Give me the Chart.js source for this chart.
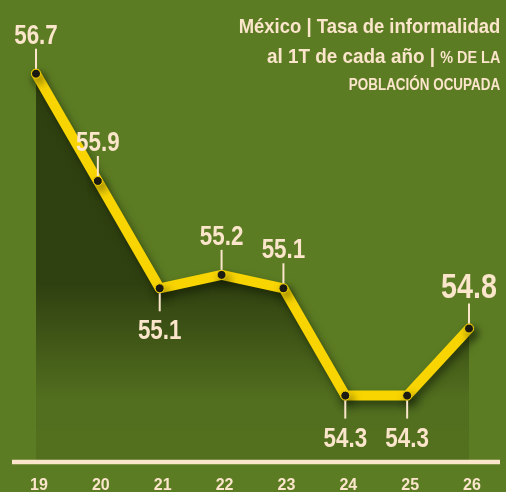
<!DOCTYPE html>
<html>
<head>
<meta charset="utf-8">
<script src="https://cdn.jsdelivr.net/npm/chart.js@4"></script>
<style>
  html, body { margin:0; padding:0; background:#5c7c23; }
  #wrap { position:relative; width:506px; height:492px; overflow:hidden; background:#5c7c23; }
  canvas { position:absolute; left:0; top:0; }
  .t { position:absolute; right:6px; color:#fbe5cb; font-family:'Liberation Sans',Arial,sans-serif; font-weight:bold; white-space:nowrap; line-height:1; transform-origin:right center; }
  .sm { font-size:16px; }
</style>
</head>
<body>
<div id="wrap">
  <canvas id="c" width="506" height="492"></canvas>
  <div class="t" style="top:15px;font-size:21px;transform:scaleX(0.88);">México | Tasa de informalidad</div>
  <div class="t" style="top:45px;font-size:21px;transform:scaleX(0.9);">al 1T de cada año | <span class="sm">% DE LA</span></div>
  <div class="t sm" style="top:77px;transform:scaleX(0.84);">POBLACIÓN OCUPADA</div>
</div>
<script>
const categories = ['19','20','21','22','23','24','25','26'];
const values = [56.7, 55.9, 55.1, 55.2, 55.1, 54.3, 54.3, 54.8];
const labelSide = ['above','above','below','above','above','below','below','above'];
const bigLabel = [false,false,false,false,false,false,false,true];

const FONT = "'Liberation Sans',Arial,sans-serif";
const CREAM = '#fbe5cb';
const YELLOW = '#f8d500';

const shadowPlugin = {
  id: 'lineShadow',
  beforeDatasetDraw(chart) {
    const ctx = chart.ctx;
    ctx.shadowColor = 'rgba(10,15,0,0.5)';
    ctx.shadowBlur = 9;
    ctx.shadowOffsetX = 3;
    ctx.shadowOffsetY = 5;
  },
  afterDatasetDraw(chart) {
    const ctx = chart.ctx;
    ctx.shadowColor = 'rgba(0,0,0,0)';
    ctx.shadowBlur = 0;
    ctx.shadowOffsetX = 0;
    ctx.shadowOffsetY = 0;
  }
};

const labelPlugin = {
  id: 'valueLabels',
  afterDatasetsDraw(chart) {
    const ctx = chart.ctx;
    const meta = chart.getDatasetMeta(0);
    meta.data.forEach((pt, i) => {
      const x = pt.x, y = pt.y;
      const big = bigLabel[i];
      ctx.save();
      ctx.strokeStyle = CREAM;
      ctx.lineWidth = 2;
      ctx.beginPath();
      if (labelSide[i] === 'above') {
        ctx.moveTo(x, y - 5);
        ctx.lineTo(x, y - 25);
      } else {
        ctx.moveTo(x, y + 5);
        ctx.lineTo(x, y + 23);
      }
      ctx.stroke();
      ctx.fillStyle = CREAM;
      ctx.font = 'bold ' + (big ? 35 : 28) + 'px ' + FONT;
      ctx.textAlign = 'center';
      ctx.textBaseline = 'alphabetic';
      const txt = values[i].toFixed(1);
      const ty = labelSide[i] === 'above' ? y - (big ? 31 : 30) : y + 51;
      ctx.translate(x, ty);
      ctx.scale(big ? 0.82 : 0.8, 1);
      ctx.fillText(txt, 0, 0);
      ctx.restore();
    });
  }
};

const axisPlugin = {
  id: 'axisLine',
  afterDraw(chart) {
    const ctx = chart.ctx;
    const a = chart.chartArea;
    ctx.save();
    ctx.strokeStyle = CREAM;
    ctx.lineWidth = 4.5;
    ctx.beginPath();
    ctx.moveTo(a.left - 24, a.bottom + 2);
    ctx.lineTo(a.right + 31, a.bottom + 2);
    ctx.stroke();
    ctx.restore();
  }
};

new Chart(document.getElementById('c'), {
  type: 'line',
  data: {
    labels: categories,
    datasets: [{
      data: values,
      borderColor: YELLOW,
      borderWidth: 10,
      borderJoinStyle: 'round',
      borderCapStyle: 'round',
      tension: 0,
      clip: false,
      pointRadius: 4.5,
      pointBackgroundColor: '#1c1c14',
      pointBorderColor: YELLOW,
      pointBorderWidth: 1,
      fill: 'start',
      backgroundColor: (context) => {
        const chart = context.chart;
        const a = chart.chartArea;
        if (!a) return 'rgba(20,28,5,0.5)';
        const g = chart.ctx.createLinearGradient(0, a.top, 0, a.bottom);
        g.addColorStop(0, 'rgba(20,28,5,0.62)');
        g.addColorStop(0.6, 'rgba(20,28,5,0.62)');
        g.addColorStop(0.86, 'rgba(20,28,5,0.14)');
        g.addColorStop(1, 'rgba(20,28,5,0.12)');
        return g;
      }
    }]
  },
  options: {
    responsive: false,
    animation: false,
    devicePixelRatio: 1,
    layout: { padding: { left: 36, right: 37, top: 20, bottom: 0 } },
    plugins: { legend: { display: false }, tooltip: { enabled: false }, title: { display: false } },
    scales: {
      x: {
        offset: false,
        grid: { display: false, drawTicks: false },
        border: { display: false },
        ticks: { color: CREAM, padding: 16, labelOffset: 3, font: { family: FONT, size: 16, weight: 'bold' }, maxRotation: 0, autoSkip: false },
        afterFit(scale) { scale.height = 32; }
      },
      y: {
        display: false,
        min: 53.82,
        max: 57.10
      }
    }
  },
  plugins: [shadowPlugin, labelPlugin, axisPlugin]
});
</script>
</body>
</html>
